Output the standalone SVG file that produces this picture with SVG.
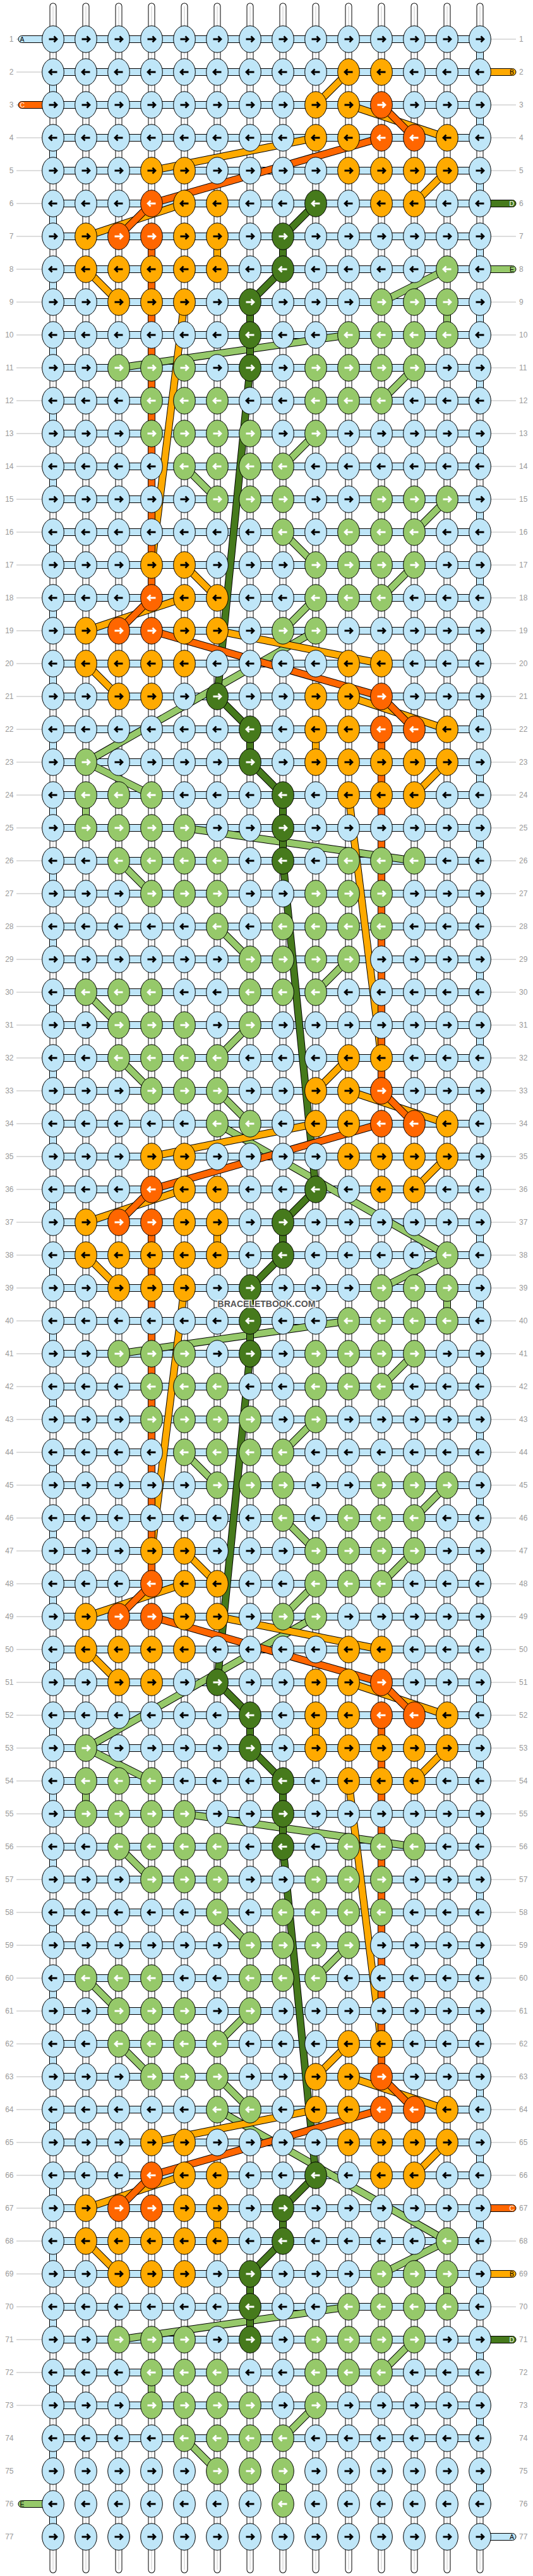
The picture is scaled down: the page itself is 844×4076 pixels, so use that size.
<svg xmlns="http://www.w3.org/2000/svg" width="844" height="4076" viewBox="0 0 844 4076">
<style>
.sb{fill:none;stroke:#000;stroke-width:11;stroke-linecap:round}
.sw{fill:none;stroke:#fff;stroke-width:9;stroke-linecap:round}
.sg{fill:none;stroke:#c8c8c8;stroke-width:1}
.ol{fill:none;stroke:#000;stroke-width:12}
.fb{fill:none;stroke:#bfe6f8;stroke-width:10}
.fo{fill:none;stroke:#ffaa00;stroke-width:10}
.fr{fill:none;stroke:#ff6600;stroke-width:10}
.fg{fill:none;stroke:#96c96a;stroke-width:10}
.fd{fill:none;stroke:#467a1c;stroke-width:10}
.dsh{stroke-dasharray:52 52}
.e{stroke:#000;stroke-width:1}
.ab{fill:none;stroke:#000;stroke-width:2.8}
.aw{fill:none;stroke:#fff;stroke-width:2.8}
.num{font-family:"Liberation Sans",Arial,sans-serif;font-size:12px;fill:#999}
.lbl{font-family:"Liberation Sans",Arial,sans-serif;font-size:10.5px}
.gl{fill:none;stroke:#bbb;stroke-width:1}
.tab{stroke:#000;stroke-width:1}
</style>
<defs>
<path id="aR" d="M-6.5 0H5.5M1.5-4.5 6 0 1.5 4.5"/>
<path id="aL" d="M6.5 0H-5.5M-1.5-4.5-6 0-1.5 4.5"/>
<g id="bR"><ellipse class="e" rx="17.3" ry="21.2" fill="#bfe6f8"/><use href="#aR" class="ab"/></g>
<g id="bL"><ellipse class="e" rx="17.3" ry="21.2" fill="#bfe6f8"/><use href="#aL" class="ab"/></g>
<g id="oR"><ellipse class="e" rx="17.3" ry="21.2" fill="#ffaa00"/><use href="#aR" class="ab"/></g>
<g id="oL"><ellipse class="e" rx="17.3" ry="21.2" fill="#ffaa00"/><use href="#aL" class="ab"/></g>
<g id="rR"><ellipse class="e" rx="17.3" ry="21.2" fill="#ff6600"/><use href="#aR" class="aw"/></g>
<g id="rL"><ellipse class="e" rx="17.3" ry="21.2" fill="#ff6600"/><use href="#aL" class="aw"/></g>
<g id="gR"><ellipse class="e" rx="17.3" ry="21.2" fill="#96c96a"/><use href="#aR" class="aw"/></g>
<g id="gL"><ellipse class="e" rx="17.3" ry="21.2" fill="#96c96a"/><use href="#aL" class="aw"/></g>
<g id="dR"><ellipse class="e" rx="17.3" ry="21.2" fill="#467a1c"/><use href="#aR" class="aw"/></g>
<g id="dL"><ellipse class="e" rx="17.3" ry="21.2" fill="#467a1c"/><use href="#aL" class="aw"/></g>
<path id="S" d="M84 10V4066M136 10V4066M188 10V4066M240 10V4066M292 10V4066M344 10V4066M396 10V4066M448 10V4066M500 10V4066M552 10V4066M604 10V4066M656 10V4066M708 10V4066M760 10V4066"/>
<path id="E" d="M760 62V4014M84 114V4014"/>
<path id="H" d="M84 62h676m-676 52h676m-676 52h676m-676 52h676m-676 52h676m-676 52h676m-676 52h676m-676 52h676m-676 52h676m-676 52h676m-676 52h676m-676 52h676m-676 52h676m-676 52h676m-676 52h676m-676 52h676m-676 52h676m-676 52h676m-676 52h676m-676 52h676m-676 52h676m-676 52h676m-676 52h676m-676 52h676m-676 52h676m-676 52h676m-676 52h676m-676 52h676m-676 52h676m-676 52h676m-676 52h676m-676 52h676m-676 52h676m-676 52h676m-676 52h676m-676 52h676m-676 52h676m-676 52h676m-676 52h676m-676 52h676m-676 52h676m-676 52h676m-676 52h676m-676 52h676m-676 52h676m-676 52h676m-676 52h676m-676 52h676m-676 52h676m-676 52h676m-676 52h676m-676 52h676m-676 52h676m-676 52h676m-676 52h676m-676 52h676m-676 52h676m-676 52h676m-676 52h676m-676 52h676m-676 52h676m-676 52h676m-676 52h676m-676 52h676m-676 52h676m-676 52h676m-676 52h676m-676 52h676m-676 52h676m-676 52h676m-676 52h676m-676 52h676m-676 52h676m-676 52h676"/>
<path id="Pg" d="M708 426L604 478M136 1206L240 1258M708 478V530M136 1258V1310M552 530L188 582M292 1310L656 1362M656 582L604 634M188 1362L240 1414M240 634V686M604 1414V1466M500 686L448 738M344 1466L396 1518M292 738L344 790M552 1518L500 1570M708 790L656 842M136 1570L188 1622M448 842L500 894M396 1622L344 1674M656 894L604 946M188 1674L240 1726M500 946L448 998M344 1726L396 1778M500 998L136 1206M344 1778L708 1986"/>
<path id="Qg" d="M708 3546L604 3598M708 3598V3650M552 3650L188 3702M656 3702L604 3754M240 3754V3806M500 3806L448 3858M292 3858L344 3910M448 3910V3962"/>
<path id="Pd" d="M500 322L448 374M344 1102L396 1154M448 374V426M396 1154V1206M448 426L396 478M396 1206L448 1258M396 478V582M448 1258V1362M396 582L344 1102M448 1362L500 1882"/>
<path id="Qd" d="M500 3442L448 3494M448 3494V3546M448 3546L396 3598M396 3598V3702"/>
<path id="Po" d="M500 166L552 114M344 946L292 894M552 166L708 218M292 946L136 998M500 218L240 270M344 998L604 1050M708 270L656 322M136 1050L188 1102M292 322L136 374M552 1102L708 1154M136 426L188 478M708 1206L656 1258M292 478L240 894M552 1258L604 1674M344 374V426M500 1154V1206"/>
<path id="Qo" d="M500 3286L552 3234M552 3286L708 3338M500 3338L240 3390M708 3390L656 3442M292 3442L136 3494M136 3546L188 3598M344 3494V3546"/>
<path id="Pr" d="M604 166L656 218M240 946L188 998M604 218L240 322M240 998L604 1102M240 322L188 374M604 1102L656 1154M240 374V946M604 1154V1726"/>
<path id="Qr" d="M604 3286L656 3338M604 3338L240 3442M240 3442L188 3494"/>
</defs>
<rect width="844" height="4076" fill="#fff"/>
<g id="strands">
<use href="#S" class="sb"/><use href="#S" class="sw"/><use href="#S" class="sg"/>
</g>
<g id="connectors">
<use href="#E" class="ol dsh"/><use href="#E" class="fb dsh"/>
<use href="#H" class="ol"/><use href="#H" class="fb"/>
<use href="#Pg" class="ol"/><use href="#Pg" class="ol" y="1560"/><use href="#Qg" class="ol"/>
<use href="#Pg" class="fg"/><use href="#Pg" class="fg" y="1560"/><use href="#Qg" class="fg"/>
<use href="#Pd" class="ol"/><use href="#Pd" class="ol" y="1560"/><use href="#Qd" class="ol"/>
<use href="#Pd" class="fd"/><use href="#Pd" class="fd" y="1560"/><use href="#Qd" class="fd"/>
<use href="#Po" class="ol"/><use href="#Po" class="ol" y="1560"/><use href="#Qo" class="ol"/>
<use href="#Po" class="fo"/><use href="#Po" class="fo" y="1560"/><use href="#Qo" class="fo"/>
<use href="#Pr" class="ol"/><use href="#Pr" class="ol" y="1560"/><use href="#Qr" class="ol"/>
<use href="#Pr" class="fr"/><use href="#Pr" class="fr" y="1560"/><use href="#Qr" class="fr"/>
</g>
<g id="rowlines">
<path class="gl" d="M26 62h40m-40 52h40m-40 52h40m-40 52h40m-40 52h40m-40 52h40m-40 52h40m-40 52h40m-40 52h40m-40 52h40m-40 52h40m-40 52h40m-40 52h40m-40 52h40m-40 52h40m-40 52h40m-40 52h40m-40 52h40m-40 52h40m-40 52h40m-40 52h40m-40 52h40m-40 52h40m-40 52h40m-40 52h40m-40 52h40m-40 52h40m-40 52h40m-40 52h40m-40 52h40m-40 52h40m-40 52h40m-40 52h40m-40 52h40m-40 52h40m-40 52h40m-40 52h40m-40 52h40m-40 52h40m-40 52h40m-40 52h40m-40 52h40m-40 52h40m-40 52h40m-40 52h40m-40 52h40m-40 52h40m-40 52h40m-40 52h40m-40 52h40m-40 52h40m-40 52h40m-40 52h40m-40 52h40m-40 52h40m-40 52h40m-40 52h40m-40 52h40m-40 52h40m-40 52h40m-40 52h40m-40 52h40m-40 52h40m-40 52h40m-40 52h40m-40 52h40m-40 52h40m-40 52h40m-40 52h40m-40 52h40m-40 52h40m-40 52h40m-40 52h40M777 62h40m-40 52h40m-40 52h40m-40 52h40m-40 52h40m-40 52h40m-40 52h40m-40 52h40m-40 52h40m-40 52h40m-40 52h40m-40 52h40m-40 52h40m-40 52h40m-40 52h40m-40 52h40m-40 52h40m-40 52h40m-40 52h40m-40 52h40m-40 52h40m-40 52h40m-40 52h40m-40 52h40m-40 52h40m-40 52h40m-40 52h40m-40 52h40m-40 52h40m-40 52h40m-40 52h40m-40 52h40m-40 52h40m-40 52h40m-40 52h40m-40 52h40m-40 52h40m-40 52h40m-40 52h40m-40 52h40m-40 52h40m-40 52h40m-40 52h40m-40 52h40m-40 52h40m-40 52h40m-40 52h40m-40 52h40m-40 52h40m-40 52h40m-40 52h40m-40 52h40m-40 52h40m-40 52h40m-40 52h40m-40 52h40m-40 52h40m-40 52h40m-40 52h40m-40 52h40m-40 52h40m-40 52h40m-40 52h40m-40 52h40m-40 52h40m-40 52h40m-40 52h40m-40 52h40m-40 52h40m-40 52h40"/>
<g class="num" text-anchor="end">
<text x="21.5" y="66">1</text><text x="21.5" y="118">2</text><text x="21.5" y="170">3</text><text x="21.5" y="222">4</text><text x="21.5" y="274">5</text><text x="21.5" y="326">6</text><text x="21.5" y="378">7</text><text x="21.5" y="430">8</text><text x="21.5" y="482">9</text><text x="21.5" y="534">10</text><text x="21.5" y="586">11</text><text x="21.5" y="638">12</text><text x="21.5" y="690">13</text><text x="21.5" y="742">14</text><text x="21.5" y="794">15</text><text x="21.5" y="846">16</text><text x="21.5" y="898">17</text><text x="21.5" y="950">18</text><text x="21.5" y="1002">19</text><text x="21.5" y="1054">20</text><text x="21.5" y="1106">21</text><text x="21.5" y="1158">22</text><text x="21.5" y="1210">23</text><text x="21.5" y="1262">24</text><text x="21.5" y="1314">25</text><text x="21.5" y="1366">26</text><text x="21.5" y="1418">27</text><text x="21.5" y="1470">28</text><text x="21.5" y="1522">29</text><text x="21.5" y="1574">30</text><text x="21.5" y="1626">31</text><text x="21.5" y="1678">32</text><text x="21.5" y="1730">33</text><text x="21.5" y="1782">34</text><text x="21.5" y="1834">35</text><text x="21.5" y="1886">36</text><text x="21.5" y="1938">37</text><text x="21.5" y="1990">38</text><text x="21.5" y="2042">39</text><text x="21.5" y="2094">40</text><text x="21.5" y="2146">41</text><text x="21.5" y="2198">42</text><text x="21.5" y="2250">43</text><text x="21.5" y="2302">44</text><text x="21.5" y="2354">45</text><text x="21.5" y="2406">46</text><text x="21.5" y="2458">47</text><text x="21.5" y="2510">48</text><text x="21.5" y="2562">49</text><text x="21.5" y="2614">50</text><text x="21.5" y="2666">51</text><text x="21.5" y="2718">52</text><text x="21.5" y="2770">53</text><text x="21.5" y="2822">54</text><text x="21.5" y="2874">55</text><text x="21.5" y="2926">56</text><text x="21.5" y="2978">57</text><text x="21.5" y="3030">58</text><text x="21.5" y="3082">59</text><text x="21.5" y="3134">60</text><text x="21.5" y="3186">61</text><text x="21.5" y="3238">62</text><text x="21.5" y="3290">63</text><text x="21.5" y="3342">64</text><text x="21.5" y="3394">65</text><text x="21.5" y="3446">66</text><text x="21.5" y="3498">67</text><text x="21.5" y="3550">68</text><text x="21.5" y="3602">69</text><text x="21.5" y="3654">70</text><text x="21.5" y="3706">71</text><text x="21.5" y="3758">72</text><text x="21.5" y="3810">73</text><text x="21.5" y="3862">74</text><text x="21.5" y="3914">75</text><text x="21.5" y="3966">76</text><text x="21.5" y="4018">77</text>
</g>
<g class="num">
<text x="822" y="66">1</text><text x="822" y="118">2</text><text x="822" y="170">3</text><text x="822" y="222">4</text><text x="822" y="274">5</text><text x="822" y="326">6</text><text x="822" y="378">7</text><text x="822" y="430">8</text><text x="822" y="482">9</text><text x="822" y="534">10</text><text x="822" y="586">11</text><text x="822" y="638">12</text><text x="822" y="690">13</text><text x="822" y="742">14</text><text x="822" y="794">15</text><text x="822" y="846">16</text><text x="822" y="898">17</text><text x="822" y="950">18</text><text x="822" y="1002">19</text><text x="822" y="1054">20</text><text x="822" y="1106">21</text><text x="822" y="1158">22</text><text x="822" y="1210">23</text><text x="822" y="1262">24</text><text x="822" y="1314">25</text><text x="822" y="1366">26</text><text x="822" y="1418">27</text><text x="822" y="1470">28</text><text x="822" y="1522">29</text><text x="822" y="1574">30</text><text x="822" y="1626">31</text><text x="822" y="1678">32</text><text x="822" y="1730">33</text><text x="822" y="1782">34</text><text x="822" y="1834">35</text><text x="822" y="1886">36</text><text x="822" y="1938">37</text><text x="822" y="1990">38</text><text x="822" y="2042">39</text><text x="822" y="2094">40</text><text x="822" y="2146">41</text><text x="822" y="2198">42</text><text x="822" y="2250">43</text><text x="822" y="2302">44</text><text x="822" y="2354">45</text><text x="822" y="2406">46</text><text x="822" y="2458">47</text><text x="822" y="2510">48</text><text x="822" y="2562">49</text><text x="822" y="2614">50</text><text x="822" y="2666">51</text><text x="822" y="2718">52</text><text x="822" y="2770">53</text><text x="822" y="2822">54</text><text x="822" y="2874">55</text><text x="822" y="2926">56</text><text x="822" y="2978">57</text><text x="822" y="3030">58</text><text x="822" y="3082">59</text><text x="822" y="3134">60</text><text x="822" y="3186">61</text><text x="822" y="3238">62</text><text x="822" y="3290">63</text><text x="822" y="3342">64</text><text x="822" y="3394">65</text><text x="822" y="3446">66</text><text x="822" y="3498">67</text><text x="822" y="3550">68</text><text x="822" y="3602">69</text><text x="822" y="3654">70</text><text x="822" y="3706">71</text><text x="822" y="3758">72</text><text x="822" y="3810">73</text><text x="822" y="3862">74</text><text x="822" y="3914">75</text><text x="822" y="3966">76</text><text x="822" y="4018">77</text>
</g>
</g>
<g id="tabs">
<g id="tab-A-in"><rect class="tab" x="29" y="56.5" width="60" height="11" rx="5.5" fill="#bfe6f8"/><text class="lbl" x="31.5" y="65.8">A</text></g>
<g id="tab-B-in"><rect class="tab" x="755" y="108.5" width="62" height="11" rx="5.5" fill="#ffaa00"/><text class="lbl" x="814" y="117.8" text-anchor="end">B</text></g>
<g id="tab-C-in"><rect class="tab" x="29" y="160.5" width="60" height="11" rx="5.5" fill="#ff6600"/><text class="lbl" x="31.5" y="169.8" fill="#fff">C</text></g>
<g id="tab-D-in"><rect class="tab" x="755" y="316.5" width="62" height="11" rx="5.5" fill="#467a1c"/><text class="lbl" x="814" y="325.8" text-anchor="end" fill="#fff">D</text></g>
<g id="tab-E-in"><rect class="tab" x="755" y="420.5" width="62" height="11" rx="5.5" fill="#96c96a"/><text class="lbl" x="814" y="429.8" text-anchor="end">E</text></g>
<g id="tab-C-out"><rect class="tab" x="755" y="3488.5" width="62" height="11" rx="5.5" fill="#ff6600"/><text class="lbl" x="814" y="3497.8" text-anchor="end" fill="#fff">C</text></g>
<g id="tab-B-out"><rect class="tab" x="755" y="3592.5" width="62" height="11" rx="5.5" fill="#ffaa00"/><text class="lbl" x="814" y="3601.8" text-anchor="end">B</text></g>
<g id="tab-D-out"><rect class="tab" x="755" y="3696.5" width="62" height="11" rx="5.5" fill="#467a1c"/><text class="lbl" x="814" y="3705.8" text-anchor="end" fill="#fff">D</text></g>
<g id="tab-E-out"><rect class="tab" x="29" y="3956.5" width="60" height="11" rx="5.5" fill="#96c96a"/><text class="lbl" x="31.5" y="3965.8">E</text></g>
<g id="tab-A-out"><rect class="tab" x="755" y="4008.5" width="62" height="11" rx="5.5" fill="#bfe6f8"/><text class="lbl" x="814" y="4017.8" text-anchor="end">A</text></g>
</g>
<g id="knots">
<g id="r1" transform="translate(0,62)"><use href="#bR" x="84"/><use href="#bR" x="136"/><use href="#bR" x="188"/><use href="#bR" x="240"/><use href="#bR" x="292"/><use href="#bR" x="344"/><use href="#bR" x="396"/><use href="#bR" x="448"/><use href="#bR" x="500"/><use href="#bR" x="552"/><use href="#bR" x="604"/><use href="#bR" x="656"/><use href="#bR" x="708"/><use href="#bR" x="760"/></g>
<g id="r2" transform="translate(0,114)"><use href="#bL" x="84"/><use href="#bL" x="136"/><use href="#bL" x="188"/><use href="#bL" x="240"/><use href="#bL" x="292"/><use href="#bL" x="344"/><use href="#bL" x="396"/><use href="#bL" x="448"/><use href="#bL" x="500"/><use href="#oL" x="552"/><use href="#oL" x="604"/><use href="#bL" x="656"/><use href="#bL" x="708"/><use href="#bL" x="760"/></g>
<g id="r3" transform="translate(0,166)"><use href="#bR" x="84"/><use href="#bR" x="136"/><use href="#bR" x="188"/><use href="#bR" x="240"/><use href="#bR" x="292"/><use href="#bR" x="344"/><use href="#bR" x="396"/><use href="#bR" x="448"/><use href="#oR" x="500"/><use href="#oR" x="552"/><use href="#rR" x="604"/><use href="#bR" x="656"/><use href="#bR" x="708"/><use href="#bR" x="760"/></g>
<g id="r4" transform="translate(0,218)"><use href="#bL" x="84"/><use href="#bL" x="136"/><use href="#bL" x="188"/><use href="#bL" x="240"/><use href="#bL" x="292"/><use href="#bL" x="344"/><use href="#bL" x="396"/><use href="#bL" x="448"/><use href="#oL" x="500"/><use href="#oL" x="552"/><use href="#rL" x="604"/><use href="#rL" x="656"/><use href="#oL" x="708"/><use href="#bL" x="760"/></g>
<g id="r5" transform="translate(0,270)"><use href="#bR" x="84"/><use href="#bR" x="136"/><use href="#bR" x="188"/><use href="#oR" x="240"/><use href="#oR" x="292"/><use href="#bR" x="344"/><use href="#bR" x="396"/><use href="#bR" x="448"/><use href="#bR" x="500"/><use href="#oR" x="552"/><use href="#oR" x="604"/><use href="#oR" x="656"/><use href="#oR" x="708"/><use href="#bR" x="760"/></g>
<g id="r6" transform="translate(0,322)"><use href="#bL" x="84"/><use href="#bL" x="136"/><use href="#bL" x="188"/><use href="#rL" x="240"/><use href="#oL" x="292"/><use href="#oL" x="344"/><use href="#bL" x="396"/><use href="#bL" x="448"/><use href="#dL" x="500"/><use href="#bL" x="552"/><use href="#oL" x="604"/><use href="#oL" x="656"/><use href="#bL" x="708"/><use href="#bL" x="760"/></g>
<g id="r7" transform="translate(0,374)"><use href="#bR" x="84"/><use href="#oR" x="136"/><use href="#rR" x="188"/><use href="#rR" x="240"/><use href="#oR" x="292"/><use href="#oR" x="344"/><use href="#bR" x="396"/><use href="#dR" x="448"/><use href="#bR" x="500"/><use href="#bR" x="552"/><use href="#bR" x="604"/><use href="#bR" x="656"/><use href="#bR" x="708"/><use href="#bR" x="760"/></g>
<g id="r8" transform="translate(0,426)"><use href="#bL" x="84"/><use href="#oL" x="136"/><use href="#oL" x="188"/><use href="#oL" x="240"/><use href="#oL" x="292"/><use href="#oL" x="344"/><use href="#bL" x="396"/><use href="#dL" x="448"/><use href="#bL" x="500"/><use href="#bL" x="552"/><use href="#bL" x="604"/><use href="#bL" x="656"/><use href="#gL" x="708"/><use href="#bL" x="760"/></g>
<g id="r9" transform="translate(0,478)"><use href="#bR" x="84"/><use href="#bR" x="136"/><use href="#oR" x="188"/><use href="#oR" x="240"/><use href="#oR" x="292"/><use href="#bR" x="344"/><use href="#dR" x="396"/><use href="#bR" x="448"/><use href="#bR" x="500"/><use href="#bR" x="552"/><use href="#gR" x="604"/><use href="#gR" x="656"/><use href="#gR" x="708"/><use href="#bR" x="760"/></g>
<g id="r10" transform="translate(0,530)"><use href="#bL" x="84"/><use href="#bL" x="136"/><use href="#bL" x="188"/><use href="#bL" x="240"/><use href="#bL" x="292"/><use href="#bL" x="344"/><use href="#dL" x="396"/><use href="#bL" x="448"/><use href="#bL" x="500"/><use href="#gL" x="552"/><use href="#gL" x="604"/><use href="#gL" x="656"/><use href="#gL" x="708"/><use href="#bL" x="760"/></g>
<g id="r11" transform="translate(0,582)"><use href="#bR" x="84"/><use href="#bR" x="136"/><use href="#gR" x="188"/><use href="#gR" x="240"/><use href="#gR" x="292"/><use href="#bR" x="344"/><use href="#dR" x="396"/><use href="#bR" x="448"/><use href="#gR" x="500"/><use href="#gR" x="552"/><use href="#gR" x="604"/><use href="#gR" x="656"/><use href="#bR" x="708"/><use href="#bR" x="760"/></g>
<g id="r12" transform="translate(0,634)"><use href="#bL" x="84"/><use href="#bL" x="136"/><use href="#bL" x="188"/><use href="#gL" x="240"/><use href="#gL" x="292"/><use href="#gL" x="344"/><use href="#bL" x="396"/><use href="#bL" x="448"/><use href="#gL" x="500"/><use href="#gL" x="552"/><use href="#gL" x="604"/><use href="#bL" x="656"/><use href="#bL" x="708"/><use href="#bL" x="760"/></g>
<g id="r13" transform="translate(0,686)"><use href="#bR" x="84"/><use href="#bR" x="136"/><use href="#bR" x="188"/><use href="#gR" x="240"/><use href="#gR" x="292"/><use href="#gR" x="344"/><use href="#gR" x="396"/><use href="#bR" x="448"/><use href="#gR" x="500"/><use href="#bR" x="552"/><use href="#bR" x="604"/><use href="#bR" x="656"/><use href="#bR" x="708"/><use href="#bR" x="760"/></g>
<g id="r14" transform="translate(0,738)"><use href="#bL" x="84"/><use href="#bL" x="136"/><use href="#bL" x="188"/><use href="#bL" x="240"/><use href="#gL" x="292"/><use href="#gL" x="344"/><use href="#gL" x="396"/><use href="#gL" x="448"/><use href="#bL" x="500"/><use href="#bL" x="552"/><use href="#bL" x="604"/><use href="#bL" x="656"/><use href="#bL" x="708"/><use href="#bL" x="760"/></g>
<g id="r15" transform="translate(0,790)"><use href="#bR" x="84"/><use href="#bR" x="136"/><use href="#bR" x="188"/><use href="#bR" x="240"/><use href="#bR" x="292"/><use href="#gR" x="344"/><use href="#gR" x="396"/><use href="#gR" x="448"/><use href="#bR" x="500"/><use href="#bR" x="552"/><use href="#gR" x="604"/><use href="#gR" x="656"/><use href="#gR" x="708"/><use href="#bR" x="760"/></g>
<g id="r16" transform="translate(0,842)"><use href="#bL" x="84"/><use href="#bL" x="136"/><use href="#bL" x="188"/><use href="#bL" x="240"/><use href="#bL" x="292"/><use href="#bL" x="344"/><use href="#bL" x="396"/><use href="#gL" x="448"/><use href="#bL" x="500"/><use href="#gL" x="552"/><use href="#gL" x="604"/><use href="#gL" x="656"/><use href="#bL" x="708"/><use href="#bL" x="760"/></g>
<g id="r17" transform="translate(0,894)"><use href="#bR" x="84"/><use href="#bR" x="136"/><use href="#bR" x="188"/><use href="#oR" x="240"/><use href="#oR" x="292"/><use href="#bR" x="344"/><use href="#bR" x="396"/><use href="#bR" x="448"/><use href="#gR" x="500"/><use href="#gR" x="552"/><use href="#gR" x="604"/><use href="#gR" x="656"/><use href="#bR" x="708"/><use href="#bR" x="760"/></g>
<g id="r18" transform="translate(0,946)"><use href="#bL" x="84"/><use href="#bL" x="136"/><use href="#bL" x="188"/><use href="#rL" x="240"/><use href="#oL" x="292"/><use href="#oL" x="344"/><use href="#bL" x="396"/><use href="#bL" x="448"/><use href="#gL" x="500"/><use href="#gL" x="552"/><use href="#gL" x="604"/><use href="#bL" x="656"/><use href="#bL" x="708"/><use href="#bL" x="760"/></g>
<g id="r19" transform="translate(0,998)"><use href="#bR" x="84"/><use href="#oR" x="136"/><use href="#rR" x="188"/><use href="#rR" x="240"/><use href="#oR" x="292"/><use href="#oR" x="344"/><use href="#bR" x="396"/><use href="#gR" x="448"/><use href="#gR" x="500"/><use href="#bR" x="552"/><use href="#bR" x="604"/><use href="#bR" x="656"/><use href="#bR" x="708"/><use href="#bR" x="760"/></g>
<g id="r20" transform="translate(0,1050)"><use href="#bL" x="84"/><use href="#oL" x="136"/><use href="#oL" x="188"/><use href="#oL" x="240"/><use href="#oL" x="292"/><use href="#bL" x="344"/><use href="#bL" x="396"/><use href="#bL" x="448"/><use href="#bL" x="500"/><use href="#oL" x="552"/><use href="#oL" x="604"/><use href="#bL" x="656"/><use href="#bL" x="708"/><use href="#bL" x="760"/></g>
<g id="r21" transform="translate(0,1102)"><use href="#bR" x="84"/><use href="#bR" x="136"/><use href="#oR" x="188"/><use href="#oR" x="240"/><use href="#bR" x="292"/><use href="#dR" x="344"/><use href="#bR" x="396"/><use href="#bR" x="448"/><use href="#oR" x="500"/><use href="#oR" x="552"/><use href="#rR" x="604"/><use href="#bR" x="656"/><use href="#bR" x="708"/><use href="#bR" x="760"/></g>
<g id="r22" transform="translate(0,1154)"><use href="#bL" x="84"/><use href="#bL" x="136"/><use href="#bL" x="188"/><use href="#bL" x="240"/><use href="#bL" x="292"/><use href="#bL" x="344"/><use href="#dL" x="396"/><use href="#bL" x="448"/><use href="#oL" x="500"/><use href="#oL" x="552"/><use href="#rL" x="604"/><use href="#rL" x="656"/><use href="#oL" x="708"/><use href="#bL" x="760"/></g>
<g id="r23" transform="translate(0,1206)"><use href="#bR" x="84"/><use href="#gR" x="136"/><use href="#bR" x="188"/><use href="#bR" x="240"/><use href="#bR" x="292"/><use href="#bR" x="344"/><use href="#dR" x="396"/><use href="#bR" x="448"/><use href="#oR" x="500"/><use href="#oR" x="552"/><use href="#oR" x="604"/><use href="#oR" x="656"/><use href="#oR" x="708"/><use href="#bR" x="760"/></g>
<g id="r24" transform="translate(0,1258)"><use href="#bL" x="84"/><use href="#gL" x="136"/><use href="#gL" x="188"/><use href="#gL" x="240"/><use href="#bL" x="292"/><use href="#bL" x="344"/><use href="#bL" x="396"/><use href="#dL" x="448"/><use href="#bL" x="500"/><use href="#oL" x="552"/><use href="#oL" x="604"/><use href="#oL" x="656"/><use href="#bL" x="708"/><use href="#bL" x="760"/></g>
<g id="r25" transform="translate(0,1310)"><use href="#bR" x="84"/><use href="#gR" x="136"/><use href="#gR" x="188"/><use href="#gR" x="240"/><use href="#gR" x="292"/><use href="#bR" x="344"/><use href="#bR" x="396"/><use href="#dR" x="448"/><use href="#bR" x="500"/><use href="#bR" x="552"/><use href="#bR" x="604"/><use href="#bR" x="656"/><use href="#bR" x="708"/><use href="#bR" x="760"/></g>
<g id="r26" transform="translate(0,1362)"><use href="#bL" x="84"/><use href="#bL" x="136"/><use href="#gL" x="188"/><use href="#gL" x="240"/><use href="#gL" x="292"/><use href="#gL" x="344"/><use href="#bL" x="396"/><use href="#dL" x="448"/><use href="#bL" x="500"/><use href="#gL" x="552"/><use href="#gL" x="604"/><use href="#gL" x="656"/><use href="#bL" x="708"/><use href="#bL" x="760"/></g>
<g id="r27" transform="translate(0,1414)"><use href="#bR" x="84"/><use href="#bR" x="136"/><use href="#bR" x="188"/><use href="#gR" x="240"/><use href="#gR" x="292"/><use href="#gR" x="344"/><use href="#bR" x="396"/><use href="#bR" x="448"/><use href="#gR" x="500"/><use href="#gR" x="552"/><use href="#gR" x="604"/><use href="#bR" x="656"/><use href="#bR" x="708"/><use href="#bR" x="760"/></g>
<g id="r28" transform="translate(0,1466)"><use href="#bL" x="84"/><use href="#bL" x="136"/><use href="#bL" x="188"/><use href="#bL" x="240"/><use href="#bL" x="292"/><use href="#gL" x="344"/><use href="#bL" x="396"/><use href="#gL" x="448"/><use href="#gL" x="500"/><use href="#gL" x="552"/><use href="#gL" x="604"/><use href="#bL" x="656"/><use href="#bL" x="708"/><use href="#bL" x="760"/></g>
<g id="r29" transform="translate(0,1518)"><use href="#bR" x="84"/><use href="#bR" x="136"/><use href="#bR" x="188"/><use href="#bR" x="240"/><use href="#bR" x="292"/><use href="#bR" x="344"/><use href="#gR" x="396"/><use href="#gR" x="448"/><use href="#gR" x="500"/><use href="#gR" x="552"/><use href="#bR" x="604"/><use href="#bR" x="656"/><use href="#bR" x="708"/><use href="#bR" x="760"/></g>
<g id="r30" transform="translate(0,1570)"><use href="#bL" x="84"/><use href="#gL" x="136"/><use href="#gL" x="188"/><use href="#gL" x="240"/><use href="#bL" x="292"/><use href="#bL" x="344"/><use href="#gL" x="396"/><use href="#gL" x="448"/><use href="#gL" x="500"/><use href="#bL" x="552"/><use href="#bL" x="604"/><use href="#bL" x="656"/><use href="#bL" x="708"/><use href="#bL" x="760"/></g>
<g id="r31" transform="translate(0,1622)"><use href="#bR" x="84"/><use href="#bR" x="136"/><use href="#gR" x="188"/><use href="#gR" x="240"/><use href="#gR" x="292"/><use href="#bR" x="344"/><use href="#gR" x="396"/><use href="#bR" x="448"/><use href="#bR" x="500"/><use href="#bR" x="552"/><use href="#bR" x="604"/><use href="#bR" x="656"/><use href="#bR" x="708"/><use href="#bR" x="760"/></g>
<g id="r32" transform="translate(0,1674)"><use href="#bL" x="84"/><use href="#bL" x="136"/><use href="#gL" x="188"/><use href="#gL" x="240"/><use href="#gL" x="292"/><use href="#gL" x="344"/><use href="#bL" x="396"/><use href="#bL" x="448"/><use href="#bL" x="500"/><use href="#oL" x="552"/><use href="#oL" x="604"/><use href="#bL" x="656"/><use href="#bL" x="708"/><use href="#bL" x="760"/></g>
<g id="r33" transform="translate(0,1726)"><use href="#bR" x="84"/><use href="#bR" x="136"/><use href="#bR" x="188"/><use href="#gR" x="240"/><use href="#gR" x="292"/><use href="#gR" x="344"/><use href="#bR" x="396"/><use href="#bR" x="448"/><use href="#oR" x="500"/><use href="#oR" x="552"/><use href="#rR" x="604"/><use href="#bR" x="656"/><use href="#bR" x="708"/><use href="#bR" x="760"/></g>
<g id="r34" transform="translate(0,1778)"><use href="#bL" x="84"/><use href="#bL" x="136"/><use href="#bL" x="188"/><use href="#bL" x="240"/><use href="#bL" x="292"/><use href="#gL" x="344"/><use href="#gL" x="396"/><use href="#bL" x="448"/><use href="#oL" x="500"/><use href="#oL" x="552"/><use href="#rL" x="604"/><use href="#rL" x="656"/><use href="#oL" x="708"/><use href="#bL" x="760"/></g>
<use id="r35" href="#r5" y="1560"/><use id="r36" href="#r6" y="1560"/><use id="r37" href="#r7" y="1560"/><use id="r38" href="#r8" y="1560"/><use id="r39" href="#r9" y="1560"/><use id="r40" href="#r10" y="1560"/><use id="r41" href="#r11" y="1560"/><use id="r42" href="#r12" y="1560"/><use id="r43" href="#r13" y="1560"/><use id="r44" href="#r14" y="1560"/><use id="r45" href="#r15" y="1560"/><use id="r46" href="#r16" y="1560"/><use id="r47" href="#r17" y="1560"/><use id="r48" href="#r18" y="1560"/><use id="r49" href="#r19" y="1560"/><use id="r50" href="#r20" y="1560"/><use id="r51" href="#r21" y="1560"/><use id="r52" href="#r22" y="1560"/><use id="r53" href="#r23" y="1560"/><use id="r54" href="#r24" y="1560"/><use id="r55" href="#r25" y="1560"/><use id="r56" href="#r26" y="1560"/><use id="r57" href="#r27" y="1560"/><use id="r58" href="#r28" y="1560"/><use id="r59" href="#r29" y="1560"/><use id="r60" href="#r30" y="1560"/><use id="r61" href="#r31" y="1560"/><use id="r62" href="#r32" y="1560"/><use id="r63" href="#r33" y="1560"/><use id="r64" href="#r34" y="1560"/>
<use id="r65" href="#r5" y="3120"/><use id="r66" href="#r6" y="3120"/><use id="r67" href="#r7" y="3120"/><use id="r68" href="#r8" y="3120"/><use id="r69" href="#r9" y="3120"/><use id="r70" href="#r10" y="3120"/><use id="r71" href="#r11" y="3120"/><use id="r72" href="#r12" y="3120"/><use id="r73" href="#r13" y="3120"/><use id="r74" href="#r14" y="3120"/>
<g id="r75" transform="translate(0,3910)"><use href="#bR" x="84"/><use href="#bR" x="136"/><use href="#bR" x="188"/><use href="#bR" x="240"/><use href="#bR" x="292"/><use href="#gR" x="344"/><use href="#gR" x="396"/><use href="#gR" x="448"/><use href="#bR" x="500"/><use href="#bR" x="552"/><use href="#bR" x="604"/><use href="#bR" x="656"/><use href="#bR" x="708"/><use href="#bR" x="760"/></g>
<g id="r76" transform="translate(0,3962)"><use href="#bL" x="84"/><use href="#bL" x="136"/><use href="#bL" x="188"/><use href="#bL" x="240"/><use href="#bL" x="292"/><use href="#bL" x="344"/><use href="#bL" x="396"/><use href="#gL" x="448"/><use href="#bL" x="500"/><use href="#bL" x="552"/><use href="#bL" x="604"/><use href="#bL" x="656"/><use href="#bL" x="708"/><use href="#bL" x="760"/></g>
<use id="r77" href="#r1" y="3952"/>
</g>
<text x="422" y="2068" text-anchor="middle" font-family="Liberation Sans, Arial, sans-serif" font-weight="bold" font-size="14" fill="#555" stroke="#fff" stroke-width="3" stroke-opacity="0.85" paint-order="stroke">BRACELETBOOK.COM</text>
</svg>
